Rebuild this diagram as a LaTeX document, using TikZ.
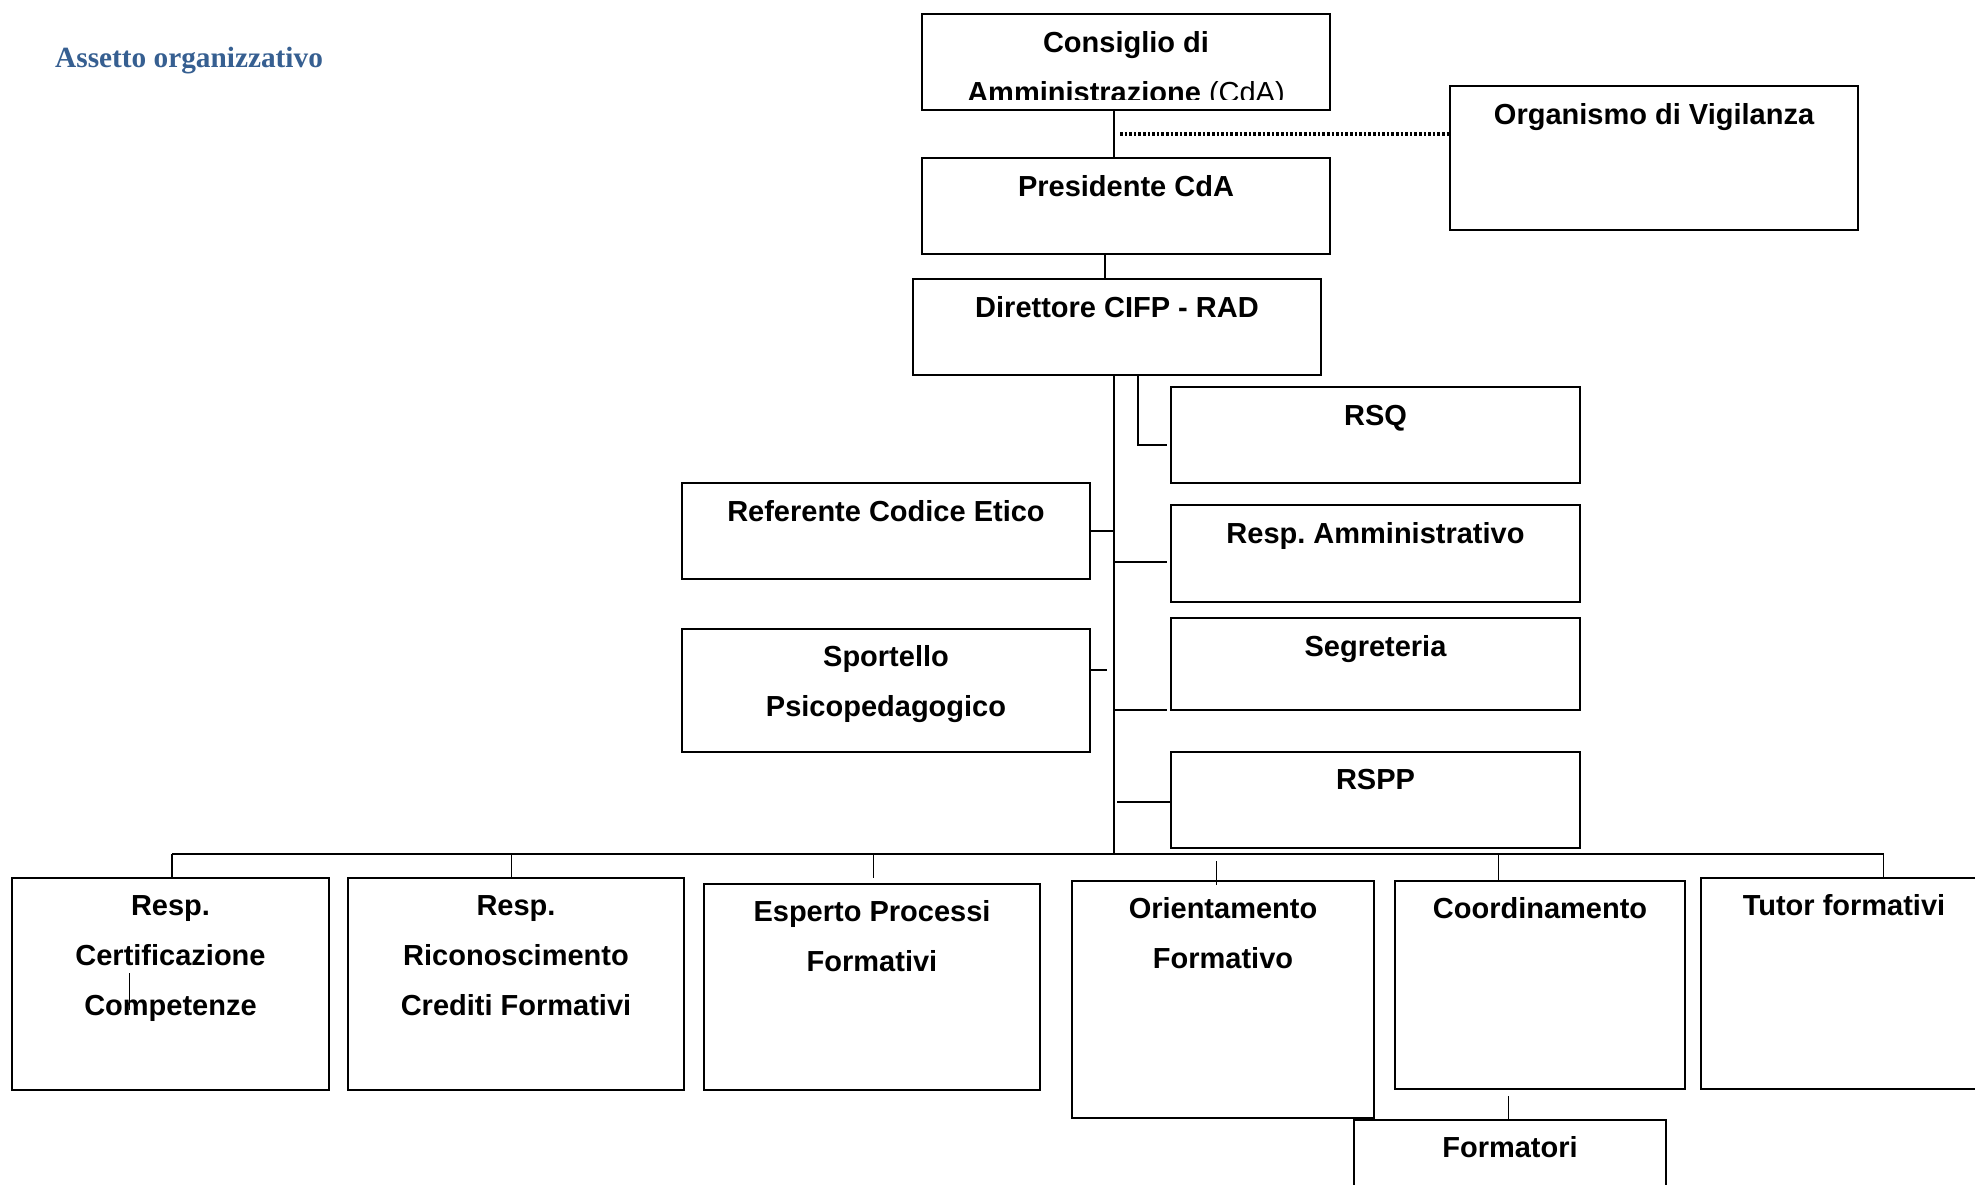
\documentclass[tikz,border=0pt]{standalone}
\usepackage{fontspec}
\setmainfont{Liberation Sans}
\newfontfamily\titlefont{Liberation Serif}
\usetikzlibrary{fit,calc}
\definecolor{titleblue}{HTML}{365F91}
\frenchspacing
\tikzset{
  orgbox/.style={draw, line width=1.6pt, rectangle, inner sep=0pt},
  orgtxt/.style={anchor=base, inner sep=0pt, font=\fontsize{29}{50}\selectfont\bfseries\frenchspacing},
  conn/.style={line width=1.2pt},
  busline/.style={line width=1.8pt},
  dotline/.style={line width=3.5pt, dash pattern=on 2.6pt off 2pt}
}
\newcommand\orgbox[7]{%
  \node[orgbox, fit={(#2,#3)(#4,#5)}] (#1) {};
  \node[orgtxt] (#1-t) at ([yshift=-#6pt]#1.north) {\begin{tabular}[t]{@{}c@{}}#7\end{tabular}};
}
\begin{document}
\begin{tikzpicture}[x=1pt,y=-1pt]
\useasboundingbox (0,0) rectangle (1975,1184);
\fill[white] (0,0) rectangle (1975,1184);
\clip (0,0) rectangle (1975,1184);

% title
\node[anchor=base west, inner sep=0pt, text=titleblue, font=\titlefont\fontsize{29.3}{34}\selectfont\bfseries] (title) at (55,67.5) {Assetto organizzativo};

% top boxes
\node[orgbox, fit={(922,14)(1330,110)}] (cda) {};
\begin{scope}
  \clip (922,14) rectangle (1330,99);
  \node[orgtxt] (cda-t) at ([yshift=-39pt]cda.north) {\begin{tabular}[t]{@{}c@{}}Consiglio di\\ Amministrazione {\mdseries(CdA)}\end{tabular}};
\end{scope}
\orgbox{pres}{922}{158}{1330}{254}{39}{Presidente CdA}
\orgbox{dir}{913}{279}{1321}{375}{39}{Direttore CIFP - RAD}
\orgbox{ov}{1450}{86}{1858}{230}{39.5}{Organismo di Vigilanza}

% staff boxes
\orgbox{rsq}{1171}{387}{1580}{483}{39}{RSQ}
\orgbox{ramm}{1171}{505}{1580}{602}{39}{Resp. Amministrativo}
\orgbox{seg}{1171}{618}{1580}{710}{39}{Segreteria}
\orgbox{rspp}{1171}{752}{1580}{848}{38.5}{RSPP}
\orgbox{ref}{682}{483}{1090}{579}{39.5}{Referente Codice Etico}
\orgbox{spo}{682}{629}{1090}{752}{38.5}{Sportello\\ Psicopedagogico}

% bottom row
\orgbox{cert}{12}{878}{329}{1090}{38.5}{Resp.\\ Certificazione\\ Competenze}
\orgbox{ricon}{348}{878}{684}{1090}{38.5}{Resp.\\ Riconoscimento\\ Crediti Formativi}
\orgbox{esp}{704}{884}{1040}{1090}{38.5}{Esperto Processi\\ Formativi}
\orgbox{orient}{1072}{881}{1374}{1118}{38.2}{Orientamento\\ Formativo}
\orgbox{coord}{1395}{881}{1685}{1089}{38.2}{Coordinamento}
\orgbox{tutor}{1701}{878}{1987}{1089}{38.5}{Tutor formativi}
\orgbox{form}{1354}{1120}{1666}{1205}{38.2}{Formatori}

% coordinates
\coordinate (trunk) at (1114,0);
\coordinate (side) at (1138,0);
\coordinate (presx) at (1105,0);
\coordinate (dotstart) at (1120,134);
\coordinate (busL) at (172,854);
\coordinate (busR) at (1883.6,854);
\coordinate (bus) at (0,854);

% connectors top
\draw[conn] (cda.south -| trunk) -- (pres.north -| trunk);
\draw[dotline] (dotstart) -- (dotstart -| ov.west);
\draw[conn] (pres.south -| presx) -- (dir.north -| presx);
\draw[conn] (dir.south -| trunk) -- (bus -| trunk);
\draw[conn] (dir.south -| side) |- (1166.6,445) coordinate (rsqend);
\draw[conn] (1114,562) coordinate (ramm-j) -- (1166.6,562);
\draw[conn] (1114,710) coordinate (seg-j) -- (1166.6,710);
\draw[conn] (1117,802) coordinate (rspp-j) -- (rspp.west |- rspp-j);
\draw[conn] (ref.east |- 0,531) -- (1114,531);
\draw[conn] (spo.east |- 0,670) -- (1106.6,670);

% bus and drops
\draw[busline] (busL) -- (busR);
\draw[conn] (busL) -- (cert.north -| busL);
\draw[conn] (bus -| 511.4,0) -- (ricon.north -| 511.4,0);
\draw[conn] (bus -| 873.4,0) -- (873.4,878);
\draw[conn] (1216.4,861) -- (1216.4,885);
\draw[conn] (bus -| 1498.4,0) -- (coord.north -| 1498.4,0);
\draw[conn] (busR) -- (tutor.north -| busR);
\draw[conn] (1508.4,1096) -- (form.north -| 1508.4,0);

% stray mark in first box
\draw[conn] (129.8,973) -- (129.8,1010);
\end{tikzpicture}
\end{document}
